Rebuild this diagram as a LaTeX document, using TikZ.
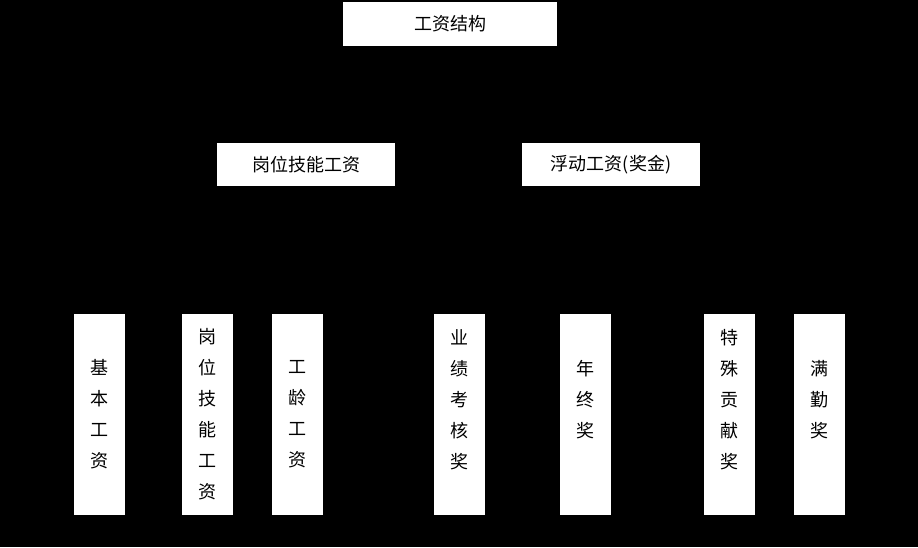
\documentclass[tikz,border=0pt]{standalone}
\usepackage{fontspec}
\usetikzlibrary{backgrounds}
\newfontfamily\cjk{Noto Sans CJK SC}
\begin{document}
\begin{tikzpicture}[x=1pt,y=-1pt,
  box/.style={fill=white,draw=none,inner sep=0pt,font=\cjk\fontsize{18}{31}\selectfont,text=black,align=center},
  link/.style={draw=black,line width=1pt}]
\node[box,minimum width=214pt,minimum height=44pt] (root) at (450,24) {工资结构};
\node[box,minimum width=178pt,minimum height=43pt] (a) at (306,164.5) {岗位技能工资};
\node[box,minimum width=178pt,minimum height=43pt] (b) at (611,164.5) {浮动工资(奖金)};
\foreach \n/\x/\t in {c1/99.5/{基\\本\\工\\资}, c2/207.5/{岗\\位\\技\\能\\工\\资}, c3/297.5/{工\\龄\\工\\资}, c4/459/{业\\绩\\考\\核\\奖\\\mbox{}}, c5/585/{年\\终\\奖\\\mbox{}}, c6/729.5/{特\\殊\\贡\\献\\奖\\\mbox{}}, c7/819.5/{满\\勤\\奖\\\mbox{}}}
  \node[box,minimum width=51pt,minimum height=201pt] (\n) at (\x,414.5) {\t};
\begin{pgfonlayer}{background}
\fill[black] (0,0) rectangle (918,547);
\draw[link] (root) -- (a); \draw[link] (root) -- (b);
\foreach \n in {c1,c2,c3} \draw[link] (a) -- (\n);
\foreach \n in {c4,c5,c6,c7} \draw[link] (b) -- (\n);
\end{pgfonlayer}
\useasboundingbox (0,0) rectangle (918,547);
\end{tikzpicture}
\end{document}
